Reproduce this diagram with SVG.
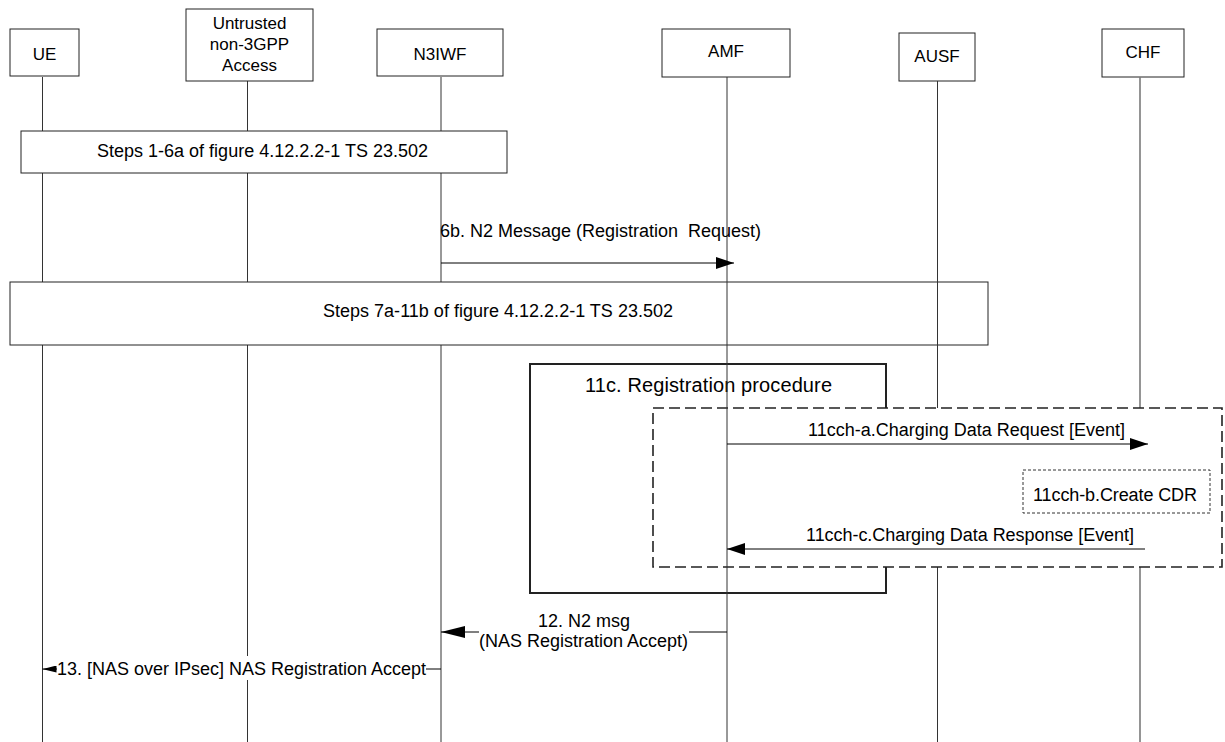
<svg xmlns="http://www.w3.org/2000/svg" width="1225" height="742" viewBox="0 0 1225 742">
<defs>
<style>
text{font-family:"Liberation Sans",Arial,sans-serif;fill:#000;}
.hd{font-size:17px;text-anchor:middle;}
.msg{font-size:18px;}
.box{fill:#fff;stroke:#222;stroke-width:1;}
.life{stroke:#333;stroke-width:1;fill:none;}
.ln{stroke:#000;stroke-width:1;fill:none;}
</style>
<marker id="ah" viewBox="0 0 18 12" refX="18" refY="6" markerWidth="18" markerHeight="12" markerUnits="userSpaceOnUse" orient="auto">
<path d="M0,0 L18,6 L0,12 Z" fill="#000"/>
</marker>
<marker id="ahL" viewBox="0 0 24 12" refX="24" refY="6" markerWidth="24" markerHeight="12" markerUnits="userSpaceOnUse" orient="auto">
<path d="M0,0 L24,6 L0,12 Z" fill="#000"/>
</marker>
<marker id="ahS" viewBox="0 0 14 7" refX="14" refY="3.5" markerWidth="14" markerHeight="7" markerUnits="userSpaceOnUse" orient="auto">
<path d="M0,0 L14,3.5 L0,7 Z" fill="#000"/>
</marker>
</defs>
<rect x="0" y="0" width="1225" height="742" fill="#fff"/>

<g id="lifelines-back">
<line class="life" x1="42.5" y1="77" x2="42.5" y2="742"/>
<line class="life" x1="247.5" y1="81" x2="247.5" y2="742"/>
<line class="life" x1="441" y1="77" x2="441" y2="742"/>
</g>

<g id="steps1-6a">
<rect class="box" x="21" y="131" width="486" height="42"/>
<text class="msg" x="97" y="157" textLength="331" lengthAdjust="spacing">Steps 1-6a of figure 4.12.2.2-1 TS 23.502</text>
</g>

<g id="steps7a-11b">
<rect class="box" x="10" y="282" width="978" height="63"/>
<text class="msg" x="323" y="317" textLength="350" lengthAdjust="spacing">Steps 7a-11b of figure 4.12.2.2-1 TS 23.502</text>
</g>

<g id="UE">
<rect class="box" x="10" y="29" width="69" height="47"/>
<text class="hd" x="44.5" y="60">UE</text>
</g>
<g id="Untrusted">
<rect class="box" x="186" y="9" width="127" height="72"/>
<text class="hd" x="249.5" y="29">Untrusted</text>
<text class="hd" x="249.5" y="50">non-3GPP</text>
<text class="hd" x="249.5" y="71">Access</text>
</g>
<g id="N3IWF">
<rect class="box" x="377" y="29" width="126" height="47"/>
<text class="hd" x="440" y="60">N3IWF</text>
</g>
<g id="AMF">
<rect class="box" x="662" y="29" width="128" height="48"/>
<text class="hd" x="726" y="57">AMF</text>
</g>
<g id="AUSF">
<rect class="box" x="899" y="33" width="76" height="48"/>
<text class="hd" x="937" y="62">AUSF</text>
</g>
<g id="CHF">
<rect class="box" x="1102" y="29" width="82" height="48"/>
<text class="hd" x="1143" y="58">CHF</text>
</g>

<g id="proc11c">
<rect x="530" y="364" width="356" height="229" fill="none" stroke="#222" stroke-width="2"/>
<text x="585" y="392" font-size="20" textLength="247" lengthAdjust="spacing">11c. Registration procedure</text>
</g>

<g id="lifelines-front">
<line class="life" x1="937.5" y1="81" x2="937.5" y2="742"/>
<line x1="1140" y1="77" x2="1140" y2="742" stroke="#7a7a7a" stroke-width="1.6"/>
</g>

<g id="charging">
<rect x="653" y="408" width="569" height="159" fill="#fff" stroke="#222" stroke-width="1.6" stroke-dasharray="11,5"/>
<rect x="1023" y="470" width="187" height="43" fill="#fff" stroke="#333" stroke-width="1" stroke-dasharray="3,2"/>
<text class="msg" x="1033" y="501" textLength="164" lengthAdjust="spacing">11cch-b.Create CDR</text>
</g>

<line id="AMF-lifeline" class="life" x1="727" y1="77" x2="727" y2="742"/>

<g id="connectors">
<line class="ln" x1="441" y1="263" x2="734" y2="263" marker-end="url(#ah)"/>
<text class="msg" x="440" y="237" textLength="321" lengthAdjust="spacing" style="white-space:pre" xml:space="preserve">6b. N2 Message (Registration  Request)</text>

<line class="ln" x1="727" y1="444" x2="1148" y2="444" marker-end="url(#ah)"/>
<text class="msg" x="808" y="436" textLength="317" lengthAdjust="spacing">11cch-a.Charging Data Request [Event]</text>

<line class="ln" x1="1145" y1="549" x2="727" y2="549" marker-end="url(#ah)"/>
<text class="msg" x="806" y="541" textLength="328" lengthAdjust="spacing">11cch-c.Charging Data Response [Event]</text>

<line class="ln" x1="727" y1="632" x2="689" y2="632"/>
<line class="ln" x1="479" y1="632" x2="441" y2="632" marker-end="url(#ahL)"/>
<text class="msg" x="538" y="627" textLength="92" lengthAdjust="spacing">12. N2 msg</text>
<text class="msg" x="479" y="647" textLength="209" lengthAdjust="spacing">(NAS Registration Accept)</text>

<line class="ln" x1="441" y1="669" x2="42.5" y2="669" marker-end="url(#ahS)"/>
<rect x="57" y="656" width="369" height="24" fill="#fff"/>
<text class="msg" x="57" y="675" textLength="369" lengthAdjust="spacing">13. [NAS over IPsec] NAS Registration Accept</text>
</g>
</svg>
